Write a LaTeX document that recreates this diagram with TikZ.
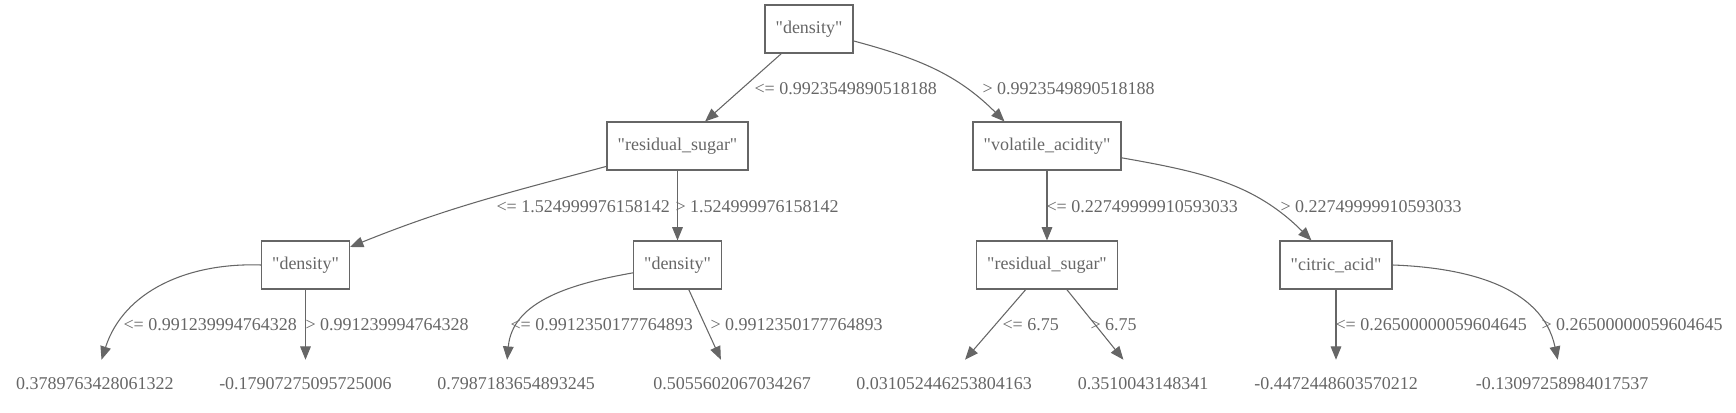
\documentclass[tikz,border=0pt]{standalone}
\usepackage{fontspec}
\setmainfont{Liberation Serif}[Ligatures=TeXOff]
\usetikzlibrary{arrows.meta}
\definecolor{treegray}{HTML}{666666}

\begin{document}
\begin{tikzpicture}[
        x                 = 0.75pt,
        y                 = -0.75pt,
        every node/.style = {font=\fontsize{13.5pt}{16pt}\selectfont, text=treegray},
        split/.style      = {draw=treegray, line width=0.8pt, rectangle, minimum width=54pt,
                             minimum height=36pt, inner xsep=8pt, inner ysep=0pt},
        leaf/.style       = {rectangle, minimum width=54pt, minimum height=36pt,
                             inner xsep=8pt, inner ysep=0pt},
        branch/.style     = {draw=treegray, line width=0.8pt, -{Triangle[length=10pt, width=8pt]}},
        cond/.style       = {anchor=west, inner sep=0pt},
    ]
    \useasboundingbox (0,0) rectangle (1736,413);

    % split nodes
    \node[split] (root) at (809,29)    {"density"};
    \node[split] (rsA)  at (677.5,146) {"residual\_sugar"};
    \node[split] (va)   at (1047,146)  {"volatile\_acidity"};
    \node[split] (dnA)  at (305.5,265) {"density"};
    \node[split] (dnB)  at (677.5,265) {"density"};
    \node[split] (rsB)  at (1047,265)  {"residual\_sugar"};
    \node[split] (ca)   at (1336,265)  {"citric\_acid"};

    % leaf values
    \node[leaf] (lfA) at (95,384)    {0.3789763428061322};
    \node[leaf] (lfB) at (305.5,384) {-0.17907275095725006};
    \node[leaf] (lfC) at (516,384)   {0.7987183654893245};
    \node[leaf] (lfD) at (732,384)   {0.5055602067034267};
    \node[leaf] (lfE) at (944,384)   {0.031052446253804163};
    \node[leaf] (lfF) at (1143,384)  {0.3510043148341};
    \node[leaf] (lfG) at (1336,384)  {-0.4472448603570212};
    \node[leaf] (lfH) at (1562,384)  {-0.13097258984017537};

    % branches
    \draw[branch] (root) -- (rsA)
        node[cond] at (754,89) {<= 0.9923549890518188};
    \draw[branch] (root.-15) to[out=-15, in=135] (va.150)
        node[cond] at (982,89) {> 0.9923549890518188};
    \draw[branch] (rsA.196) to[out=195, in=22] (dnA.22)
        node[cond] at (496,207) {<= 1.524999976158142};
    \draw[branch] (rsA) -- (dnB)
        node[cond] at (675,207) {> 1.524999976158142};
    \draw[branch] (va) -- (rsB)
        node[cond] at (1046,207) {<= 0.22749999910593033};
    \draw[branch] (va.-9) to[out=-10, in=135] (ca.135)
        node[cond] at (1280,207) {> 0.22749999910593033};
    \draw[branch] (dnA.west) to[out=178, in=72] (lfA.75)
        node[cond] at (123,325) {<= 0.991239994764328};
    \draw[branch] (dnA) -- (lfB)
        node[cond] at (305,325) {> 0.991239994764328};
    \draw[branch] (dnB.190) to[out=190, in=85] (lfC.110)
        node[cond] at (510,325) {<= 0.9912350177764893};
    \draw[branch] (dnB) -- (lfD)
        node[cond] at (710,325) {> 0.9912350177764893};
    \draw[branch] (rsB) -- (lfE)
        node[cond] at (1002,325) {<= 6.75};
    \draw[branch] (rsB) -- (lfF)
        node[cond] at (1090,325) {> 6.75};
    \draw[branch] (ca) -- (lfG)
        node[cond] at (1335,325) {<= 0.26500000059604645};
    \draw[branch] (ca.east) to[out=-2, in=102] (lfH.100)
        node[cond] at (1541,325) {> 0.26500000059604645};
\end{tikzpicture}
\end{document}
